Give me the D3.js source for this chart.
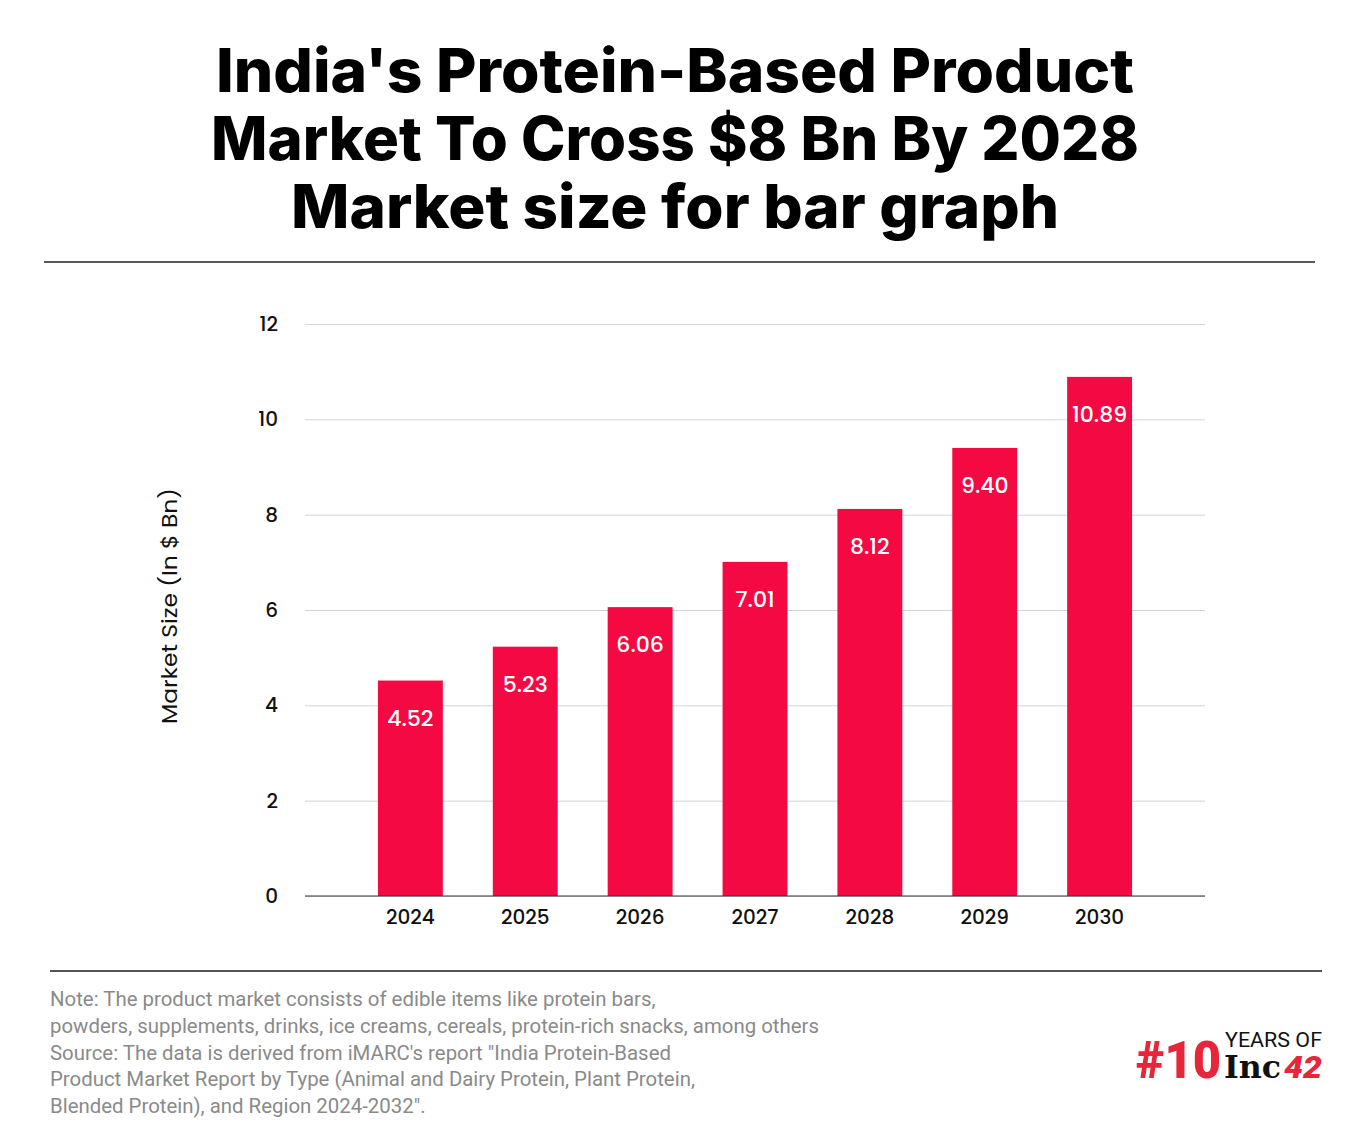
<!DOCTYPE html>
<html><head><meta charset="utf-8">
<script src="https://cdn.jsdelivr.net/npm/d3@7"></script>
<style>body{margin:0;background:#fff}svg{display:block}</style>
</head><body>
<script>
const titleLines = ["India's Protein-Based Product", "Market To Cross $8 Bn By 2028", "Market size for bar graph"];
const years = ["2024","2025","2026","2027","2028","2029","2030"];
const values = [4.52,5.23,6.06,7.01,8.12,9.40,10.89];
const yTicks = [0,2,4,6,8,10,12];
const yLabel = "Market Size (In $ Bn)";
const noteLines = [
 "Note: The product market consists of edible items like protein bars,",
 "powders, supplements, drinks, ice creams, cereals, protein-rich snacks, among others",
 "Source: The data is derived from iMARC's report \"India Protein-Based",
 "Product Market Report by Type (Animal and Dairy Protein, Plant Protein,",
 "Blended Protein), and Region 2024-2032\"."
];

const W=1360,H=1141;
const svg=d3.select("body").append("svg").attr("width",W).attr("height",H);
svg.append("rect").attr("width",W).attr("height",H).attr("fill","#fff");

const titleFont="Inter, 'Open Sans', sans-serif";
const tWidths=[918,928,768];
titleLines.forEach((t,i)=>{
  svg.append("text").attr("x",675).attr("y",92+i*68).attr("text-anchor","middle")
   .attr("font-family",titleFont).attr("font-weight",800).attr("font-size",60)
   .attr("textLength",tWidths[i]).attr("lengthAdjust","spacingAndGlyphs")
   .attr("fill","#000").text(t);
});
svg.append("line").attr("x1",44).attr("x2",1315).attr("y1",262).attr("y2",262).attr("stroke","#222").attr("stroke-width",1.5);

const x=d3.scaleBand().domain(years).range([305,1205]).paddingInner(0.435).paddingOuter(0.635);
const y=d3.scaleLinear().domain([0,12]).range([896,324]);
const g=svg.append("g");
const font="Poppins, Inter, 'Open Sans', sans-serif";

// gridlines
g.append("g").attr("transform","translate(305,0)")
 .call(d3.axisLeft(y).tickValues(yTicks).tickSize(-900).tickFormat(d3.format("d")).tickPadding(27))
 .call(a=>a.select(".domain").remove())
 .call(a=>a.selectAll(".tick line").attr("stroke","#d4d4d4").attr("stroke-width",1))
 .call(a=>a.selectAll(".tick text").attr("font-family",font).attr("font-size",20).attr("font-weight",500).attr("fill","#111"));

// bars
g.selectAll("rect.bar").data(values).join("rect").attr("class","bar")
 .attr("x",(d,i)=>x(years[i])).attr("width",x.bandwidth())
 .attr("y",d=>y(d)).attr("height",d=>y(0)-y(d)).attr("fill","#f50942");

// baseline
g.append("line").attr("x1",305).attr("x2",1205).attr("y1",y(0)).attr("y2",y(0)).attr("stroke","#333").attr("stroke-width",1.2);

// value labels
g.selectAll("text.val").data(values).join("text").attr("class","val")
 .attr("x",(d,i)=>x(years[i])+x.bandwidth()/2).attr("y",d=>y(d)+45)
 .attr("text-anchor","middle").attr("font-family",font).attr("font-size",22).attr("font-weight",500).attr("fill","#fff")
 .text(d=>d.toFixed(2));

// x axis
g.append("g").attr("transform",`translate(0,${y(0)})`)
 .call(d3.axisBottom(x).tickSize(0).tickPadding(14))
 .call(a=>a.select(".domain").remove())
 .call(a=>a.selectAll(".tick text").attr("font-family",font).attr("font-size",20).attr("font-weight",500).attr("fill","#111"));

// y label
svg.append("text").attr("transform","translate(177,606) rotate(-90)").attr("text-anchor","middle")
 .attr("font-family",font).attr("font-size",21).attr("fill","#111")
 .attr("textLength",236).attr("lengthAdjust","spacingAndGlyphs").text(yLabel);

// bottom rule
svg.append("line").attr("x1",50).attr("x2",1322).attr("y1",971).attr("y2",971).attr("stroke","#555").attr("stroke-width",2);

noteLines.forEach((t,i)=>{
  svg.append("text").attr("x",50).attr("y",1006+i*26.8).attr("font-family","Roboto, sans-serif")
   .attr("font-size",20.4).attr("fill","#8a8a8a").text(t);
});

// logo
const lg=svg.append("g");
lg.append("text").attr("x",1136).attr("y",1078).attr("font-family","Roboto, sans-serif").attr("font-weight",900)
 .attr("font-size",52).attr("fill","#e8263a").attr("textLength",85).attr("lengthAdjust","spacingAndGlyphs").text("#10");
lg.append("text").attr("x",1225).attr("y",1047).attr("font-family","Roboto, sans-serif").attr("font-size",21)
 .attr("fill","#111").attr("textLength",97).attr("lengthAdjust","spacingAndGlyphs").text("YEARS OF");
lg.append("text").attr("x",1224).attr("y",1078).attr("font-family","'DejaVu Serif', serif").attr("font-weight",700)
 .attr("font-size",31).attr("fill","#111").attr("textLength",57).attr("lengthAdjust","spacingAndGlyphs").text("Inc");
lg.append("text").attr("x",1284).attr("y",1078).attr("font-family","Roboto, sans-serif").attr("font-weight",900)
 .attr("font-size",31).attr("fill","#e8263a").attr("font-style","italic").attr("textLength",38).attr("lengthAdjust","spacingAndGlyphs").text("42");
</script>
</body></html>
